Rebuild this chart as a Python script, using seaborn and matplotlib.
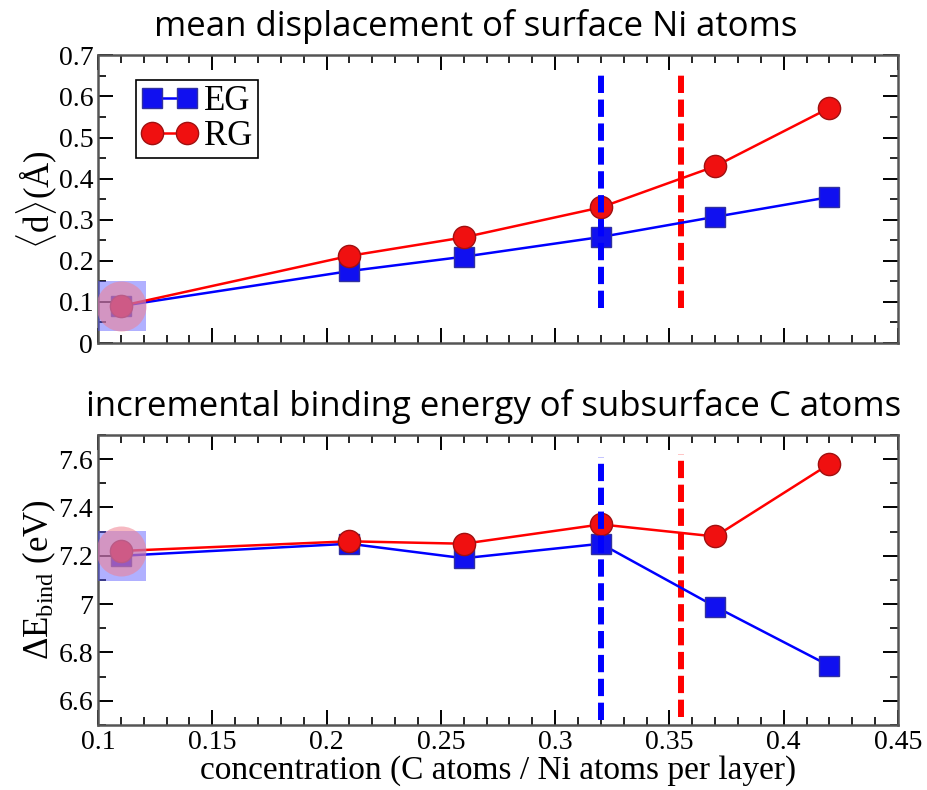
import matplotlib
matplotlib.use("Agg")
import matplotlib.pyplot as plt
import seaborn as sns
import numpy as np
from matplotlib.ticker import MultipleLocator, FuncFormatter

conc = [0.11, 0.21, 0.26, 0.32, 0.37, 0.42]
disp_eg = [0.090, 0.175, 0.210, 0.258, 0.307, 0.355]
disp_rg = [0.090, 0.212, 0.257, 0.330, 0.430, 0.572]
ebind_eg = [7.20, 7.25, 7.19, 7.25, 6.99, 6.745]
ebind_rg = [7.22, 7.26, 7.25, 7.33, 7.28, 7.58]
series_names = ["EG", "RG"]
crit_eg = 0.32
crit_rg = 0.355
titles = ["mean displacement of surface Ni atoms",
          "incremental binding energy of subsurface C atoms"]

sns.set_theme(style="ticks")
plt.rcParams['font.family'] = ['Liberation Serif', 'DejaVu Serif']
plt.rcParams['mathtext.fontset'] = 'custom'
plt.rcParams['mathtext.rm'] = 'Liberation Serif'
plt.rcParams['mathtext.it'] = 'Liberation Serif:italic'
plt.rcParams['text.color'] = 'black'
plt.rcParams['axes.labelcolor'] = 'black'

fig = plt.figure(figsize=(9.28, 7.90), dpi=100)
ax1 = fig.add_axes([0.1056, 0.5658, 0.8621, 0.3642])
ax2 = fig.add_axes([0.1056, 0.0823, 0.8621, 0.3671])

blue = "#0000ff"
red = "#ff0000"

def gfmt(v, pos):
    return "%g" % round(v, 4)

for ax, yeg, yrg, ylim, ymaj, ymin, vl in [
        (ax1, disp_eg, disp_rg, (0, 0.7), 0.1, 0.05, ((0.085, 0.652), (0.085, 0.652))),
        (ax2, ebind_eg, ebind_rg, (6.5, 7.7), 0.2, 0.1, ((6.52, 7.61), (6.535, 7.62)))]:
    sns.lineplot(x=conc, y=yeg, ax=ax, color=blue, lw=1.8, marker='s', markersize=14,
                 markerfacecolor="#1010f0", markeredgecolor="#3030a0", markeredgewidth=1.0,
                 label=series_names[0], zorder=4)
    sns.lineplot(x=conc, y=yrg, ax=ax, color=red, lw=1.8, marker='o', markersize=16,
                 markerfacecolor="#f01010", markeredgecolor="#a01010", markeredgewidth=1.0,
                 label=series_names[1], zorder=5)
    # highlight at first point (drawn over the markers)
    ax.plot([conc[0]], [yeg[0]], marker='s', ms=36, color="#5050ff", alpha=0.45, mew=0, zorder=7)
    ax.plot([conc[0]], [yrg[0]], marker='o', ms=36, color="#f08090", alpha=0.55, mew=0, zorder=8)
    ax.plot([crit_eg, crit_eg], vl[0], ls=(0, (2.9, 1.1)), lw=4.3, color=blue,
            solid_capstyle='butt', dash_capstyle='butt', zorder=6)
    ax.plot([crit_rg, crit_rg], vl[1], ls=(0, (2.9, 1.1)), lw=4.3, color=red,
            solid_capstyle='butt', dash_capstyle='butt', zorder=3)
    ax.set_xlim(0.1, 0.45)
    ax.set_ylim(*ylim)
    ax.xaxis.set_major_locator(MultipleLocator(0.05))
    ax.xaxis.set_minor_locator(MultipleLocator(0.01))
    ax.yaxis.set_major_locator(MultipleLocator(ymaj))
    ax.yaxis.set_minor_locator(MultipleLocator(ymin))
    ax.xaxis.set_major_formatter(FuncFormatter(gfmt))
    ax.yaxis.set_major_formatter(FuncFormatter(gfmt))
    ax.tick_params(which='both', direction='in', top=True, right=True, labelsize=20, colors='black')
    ax.tick_params(which='major', length=11, width=1.4)
    ax.tick_params(which='minor', length=6, width=1.2)
    for s in ax.spines.values():
        s.set_color("#555555")
        s.set_linewidth(1.8)

ax1.tick_params(labelbottom=False)
ax1.set_ylabel(r"$\langle$d$\rangle$(Å)", fontsize=25, labelpad=0)
ax2.set_ylabel(r"$\Delta$E$_{\mathrm{bind}}$ (eV)", fontsize=25, labelpad=0)
ax2.set_xlabel("concentration (C atoms / Ni atoms per layer)", fontsize=24, labelpad=0)

leg = ax1.legend(loc='upper left', bbox_to_anchor=(0.035, 0.95), numpoints=2, fontsize=25,
                 frameon=True, fancybox=False, edgecolor='black', framealpha=1,
                 handlelength=1.6, handletextpad=0.2, borderpad=0.15, labelspacing=0.05,
                 borderaxespad=0.3)
leg.get_frame().set_linewidth(1.2)
ax2.legend_.remove()

ax1.set_title(titles[0], fontsize=25, family=['Open Sans', 'DejaVu Sans'], pad=14,
              x=0.4725, color='black')
ax2.set_title(titles[1], fontsize=25, family=['Open Sans', 'DejaVu Sans'], pad=14,
              x=0.495, color='black')

fig.savefig("out.png", dpi=100)
